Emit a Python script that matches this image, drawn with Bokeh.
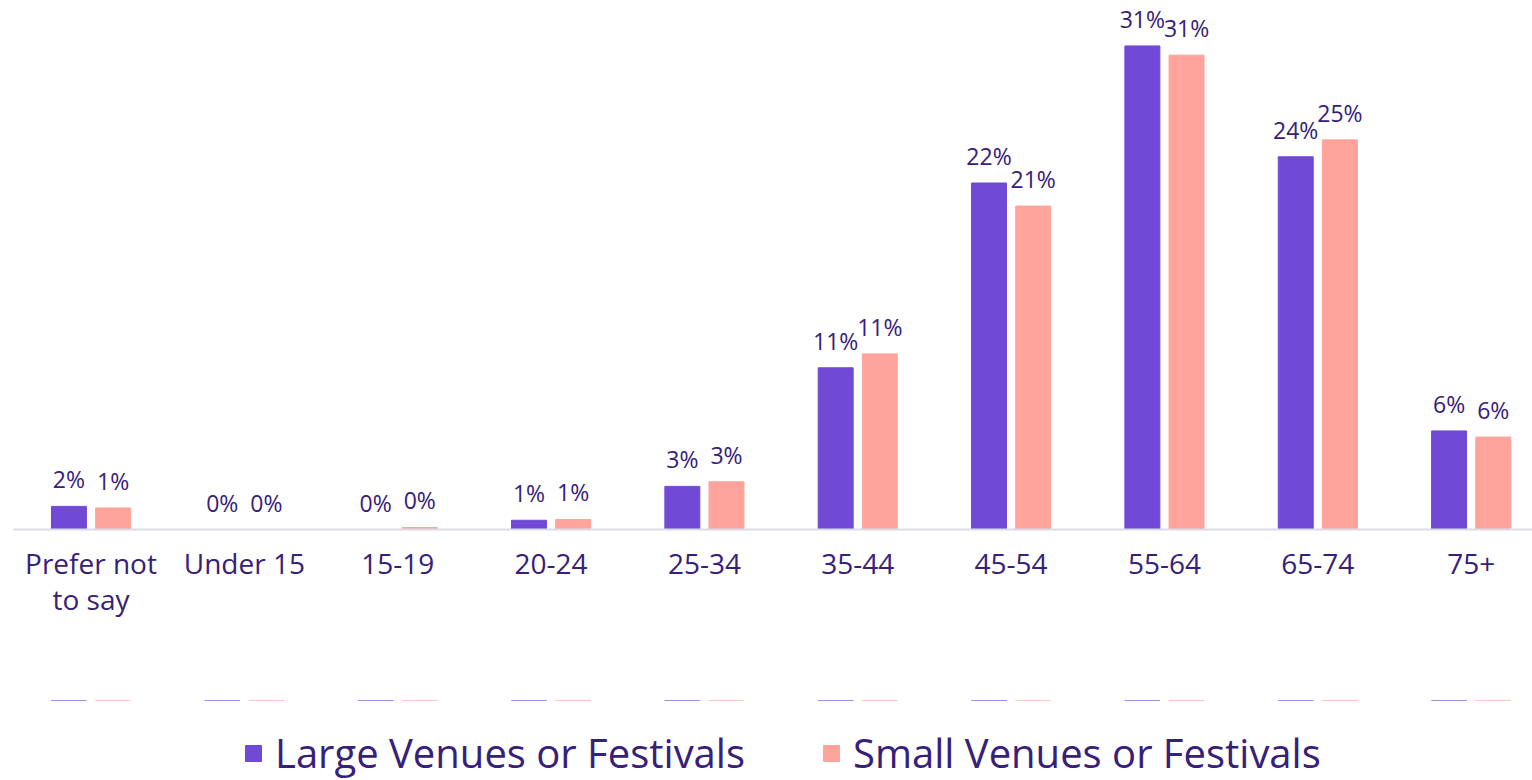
from bokeh.plotting import figure
from bokeh.layouts import column
from bokeh.models import ColumnDataSource, FixedTicker, Legend, LegendItem, Range1d
from bokeh.core.properties import value
from bokeh.embed import file_html
from bokeh.resources import INLINE

categories = ["Prefer not\nto say", "Under 15", "15-19", "20-24", "25-34",
              "35-44", "45-54", "55-64", "65-74", "75+"]
large_values = [1.5, 0.0, 0.0, 0.6, 2.8, 10.5, 22.5, 31.4, 24.2, 6.4]
small_values = [1.4, 0.0, 0.13, 0.65, 3.1, 11.4, 21.0, 30.8, 25.3, 6.0]
large_labels = ["2%", "0%", "0%", "1%", "3%", "11%", "22%", "31%", "24%", "6%"]
small_labels = ["1%", "0%", "0%", "1%", "3%", "11%", "21%", "31%", "25%", "6%"]
series_names = ["Large Venues or Festivals", "Small Venues or Festivals"]

LARGE_COLOR = "#7049D6"
SMALL_COLOR = "#FFA39B"
TEXT_COLOR = "#36207A"
FONT = "Open Sans"

idx = list(range(len(categories)))
offset = 0.144
bar_w = 0.228

src_l = ColumnDataSource(dict(x=[i - offset for i in idx], top=large_values, lab=large_labels))
src_s = ColumnDataSource(dict(x=[i + offset for i in idx], top=small_values, lab=small_labels))

p = figure(width=1532, height=700, output_backend="svg", toolbar_location=None,
           x_range=Range1d(-0.5055, 9.4), y_range=Range1d(0, 33.83),
           min_border_left=13, min_border_right=0, min_border_top=8, min_border_bottom=171)

p.vbar(x="x", top="top", bottom=0, width=bar_w, source=src_l, fill_color=LARGE_COLOR,
       line_color=LARGE_COLOR)
p.vbar(x="x", top="top", bottom=0, width=bar_w, source=src_s, fill_color=SMALL_COLOR,
       line_color=SMALL_COLOR)

for src in (src_l, src_s):
    p.text(x="x", y="top", text="lab", source=src, text_align="center",
           text_baseline="alphabetic", y_offset=-27, text_font=value(FONT),
           text_font_size="23px", text_color=TEXT_COLOR)

p.grid.visible = False
p.yaxis.visible = False
p.outline_line_color = None
p.background_fill_color = None
p.border_fill_color = "white"

xa = p.xaxis[0]
xa.ticker = FixedTicker(ticks=idx)
xa.major_label_overrides = {i: c for i, c in zip(idx, categories)}
xa.major_tick_line_color = None
xa.minor_tick_line_color = None
xa.axis_line_color = "#D9DCE6"
xa.axis_line_width = 2
xa.major_label_text_font = FONT
xa.major_label_text_font_size = "28px"
xa.major_label_text_color = TEXT_COLOR
xa.major_label_text_line_height = 0.95
xa.major_label_standoff = 8

# legend strip below the chart: same series, but its y range shows none of the bars
lf = figure(width=1532, height=80, output_backend="svg", toolbar_location=None,
            x_range=Range1d(-0.5055, 9.4), y_range=Range1d(-20, -10),
            min_border_left=13, min_border_right=0, min_border_top=0, min_border_bottom=0)
lf.axis.visible = False
lf.grid.visible = False
lf.outline_line_color = None
lf.background_fill_color = None
d_l = lf.vbar(x="x", top="top", bottom=0, width=bar_w, source=src_l,
              fill_color=LARGE_COLOR, line_color=LARGE_COLOR)
d_s = lf.vbar(x="x", top="top", bottom=0, width=bar_w, source=src_s,
              fill_color=SMALL_COLOR, line_color=SMALL_COLOR)

legend = Legend(items=[LegendItem(label=series_names[0], renderers=[d_l]),
                       LegendItem(label=series_names[1], renderers=[d_s])],
                orientation="horizontal", location=(230, 0),
                label_text_font=FONT, label_text_font_size="40px",
                label_text_color=TEXT_COLOR, glyph_width=20, glyph_height=20,
                label_standoff=12, spacing=76, border_line_color=None,
                background_fill_alpha=0, margin=0, padding=0)
lf.add_layout(legend, "center")

layout = column(p, lf, spacing=0)
open("out.html", "w").write(file_html(layout, INLINE))
